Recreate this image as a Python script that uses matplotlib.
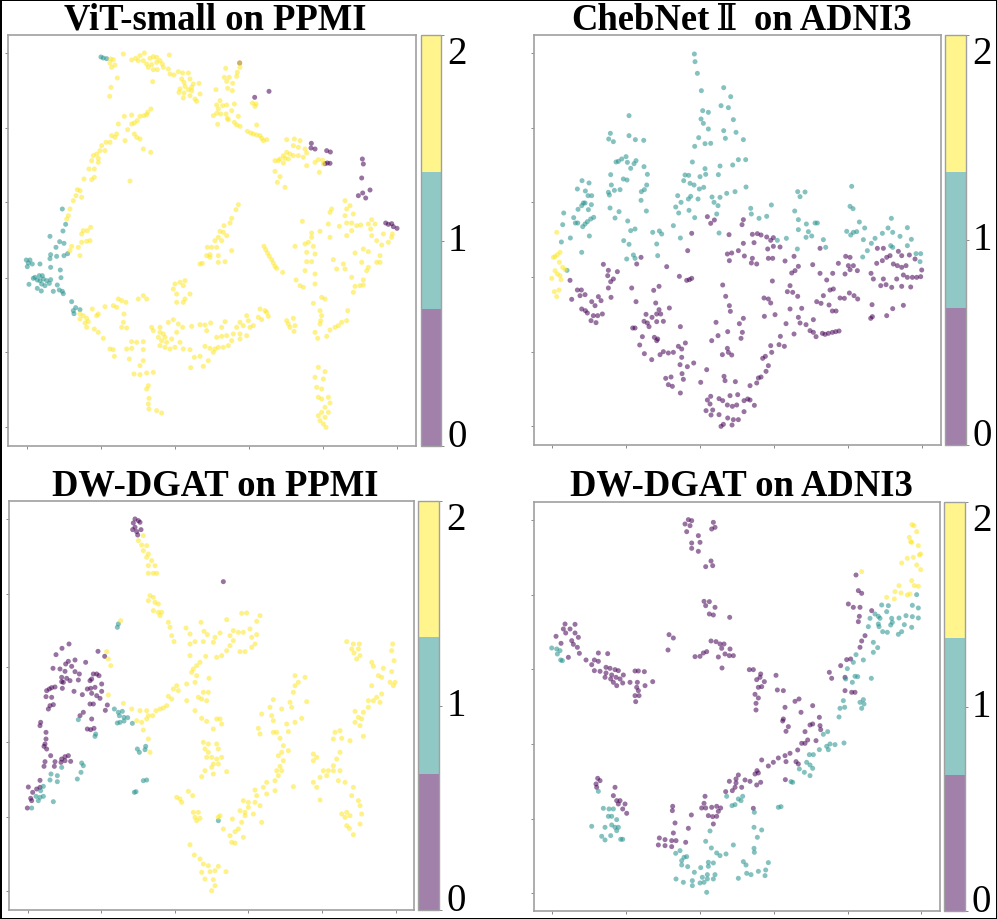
"""t-SNE embeddings of four models, three classes each."""
import numpy as np
import matplotlib
matplotlib.use("Agg")
import matplotlib.pyplot as plt
from matplotlib.cm import ScalarMappable
from matplotlib.colors import ListedColormap, Normalize

# embedding coordinates, one list per class
VIT_PPMI_0 = [(719,192),(807,277),(764,295),(934,433),(933,447),(945,450),(980,455),(991,459),(975,494),(982,492),(990,493),(1087,480),(1090,495),(1085,537),(1110,573),(1088,582),(1075,590),(1097,597),(1157,672),(1165,676),(1175,674),(1180,683),(1191,688)]
VIT_PPMI_1 = [(303,174),(310,177),(320,179),(187,630),(197,676),(189,696),(150,712),(179,728),(192,733),(168,745),(152,767),(150,779),(170,772),(192,770),(203,764),(79,783),(90,783),(97,795),(85,792),(82,803),(120,795),(152,805),(181,813),(183,836),(100,838),(87,856),(105,835),(118,830),(127,830),(112,843),(120,845),(130,840),(140,845),(152,842),(148,853),(125,855),(135,860),(112,868),(124,876),(160,877),(172,858),(178,873),(187,877),(190,884),(215,908),(227,926),(240,932),(220,935),(222,944)]
VIT_PPMI_2 = [(719,192),(332,180),(340,182),(330,192),(335,205),(345,198),(370,165),(352,237),(333,265),(329,292),(395,183),(407,178),(420,170),(433,162),(415,185),(430,185),(440,195),(450,178),(460,173),(470,175),(480,185),(487,195),(470,190),(455,197),(445,205),(460,212),(472,212),(508,168),(490,205),(505,210),(510,225),(522,228),(535,218),(548,222),(565,222),(545,240),(552,250),(570,240),(580,255),(575,265),(597,253),(555,262),(565,272),(540,270),(552,282),(537,280),(550,297),(575,275),(570,290),(585,300),(590,307),(600,285),(458,248),
    (677,208),(720,205),(712,220),(710,232),(673,235),(688,235),(680,247),(698,253),(683,268),(697,275),(648,272),(660,305),(668,320),(650,318),(655,330),(662,345),(680,318),(703,315),(695,335),(678,345),(640,350),(650,343),(715,352),(682,358),(685,362),(703,370),(653,376),(710,378),(720,382),(770,378),(742,397),(752,402),(760,405),(770,408),(780,410),(785,418),(790,425),(800,422),(757,312),(768,315),(765,322),
    (860,422),(883,420),(900,425),(880,440),(895,445),(915,450),(920,462),(860,460),(870,465),(850,470),(840,480),(855,478),(835,485),(825,485),(850,492),(865,480),(880,470),(895,470),(910,475),(920,500),(945,490),(955,482),(968,484),(970,495),(958,520),(825,517),(840,533),(832,550),(855,565),
    (453,330),(443,340),(432,350),(420,352),(440,347),(373,352),(395,348),(412,365),(403,372),(395,375),(355,375),(383,392),(375,425),(403,405),(410,415),(420,420),(350,405),(345,415),(335,410),(330,430),(318,430),(305,440),(300,455),(315,455),(290,465),(280,470),(295,478),(275,485),(295,490),(267,510),(283,510),(283,535),(275,542),(252,540),(430,450),(452,460),(390,546),(232,572),(240,575),(228,590),(245,595),(220,605),(210,630),(205,650),(200,660),(272,685),(262,695),(250,695),(245,705),(270,725),(260,727),(245,730),(235,745),(215,742),(210,755),(240,770),
    (715,617),(708,632),(695,658),(690,672),(672,680),(660,697),(670,700),(655,715),(680,710),(665,725),(645,725),(635,745),(622,745),(650,745),(620,770),(630,775),(655,770),(695,755),(630,767),(607,793),(600,795),(655,790),(675,788),(792,742),(797,752),(803,762),(808,772),(815,782),(820,792),(825,802),(830,808),(848,820),
    (1035,605),(1050,620),(995,630),(990,640),(1040,630),(1060,645),(1035,650),(907,667),(985,675),(1018,682),(1040,672),(1055,672),(1070,680),(1082,678),(1115,662),(1125,675),(1105,675),(1112,690),(1115,710),(960,697),(935,702),(1055,695),(1040,710),(1150,705),(1177,705),(1175,715),(1130,725),(1165,730),(1145,738),(990,715),(885,742),(935,715),(925,730),(915,735),(940,742),(920,760),(945,765),(1065,762),(1090,750),(1105,758),(1140,770),(1085,790),(920,788),(935,788),(1000,782),(1030,795),(1010,810),(1035,810),(1105,805),(1100,815),(1130,790),(1140,790),(915,815),(945,825),(1055,835),(1090,843),(888,843),(945,855),(900,860),(910,865),(1065,862),(1080,860),(1090,858),(1060,880),(965,895),(975,900),(940,913),(960,935),(1043,935),(965,950),(962,965),(960,975),(1040,965),(1025,970),(1015,980),(1005,985),(990,993),(980,1012),(945,1000),(953,1018),(860,965),(880,958),(865,975),(885,980),(870,985),(882,997),
    (240,945),(250,950),(260,958),(240,960),(265,968),(255,972),(260,985),(283,990),(295,1000),(310,1018),(330,1050),(340,1052),(343,1072),(277,930),(295,945),(315,923),(290,950),(340,920),(355,900),(365,905),(378,910),(350,925),(372,945),(370,970),(365,985),(380,987),(415,900),(430,890),(440,900),(525,855),(540,850),(555,845),(520,870),(530,885),(550,860),(570,885),(555,900),(530,910),(550,910),(395,1028),(410,1030),(430,1028),(380,1050),(395,1048),(430,1052),(388,1080),(430,1085),(420,1100),(402,1125),(420,1127),(440,1122),(460,1120),(445,1160),(440,1170),(447,1198),(445,1215),(447,1230),(470,1235),(485,1242),
    (455,985),(460,995),(480,985),(505,970),(520,962),(535,975),(548,985),(575,982),(600,977),(615,978),(632,972),(675,968),(665,985),(620,995),(480,1000),(490,1005),(475,1015),(495,1015),(485,1025),(500,1030),(515,1020),(530,1000),(540,1030),(495,1045),(510,1050),(525,1045),(550,1050),(570,1052),(480,1040),(650,1015),(665,1012),(680,1010),(700,1005),(720,1005),(740,1010),(695,1025),(720,1020),(615,1042),(630,1048),(645,1050),(655,1045),(670,1045),(685,1040),(640,1060),(600,1072),(583,1075),(625,1085),(572,1106),(610,1102),(720,970),(730,980),(740,950),(745,965),(750,985),(760,980),(710,985),(780,930),(795,935),(805,952),(785,962),(775,955),(800,940),
    (955,1105),(975,1118),(945,1135),(970,1140),(950,1165),(965,1170),(955,1195),(985,1195),(965,1200),(990,1212),(975,1225),(965,1240),(985,1240),(955,1250),(975,1255),(960,1265),(970,1275),(978,1285)]

CHEB_ADNI_0 = [(622,653),(643,663),(632,673),(730,662),(726,677),(575,703),(687,707),(757,706),(772,704),(783,708),(800,714),(820,716),(812,724),(762,731),(730,733),(803,750),(820,742),(840,744),(715,755),(695,762),(682,765),(563,755),(960,748),(882,772),(733,771),(757,778),(805,778),(818,778),(855,786),(688,785),(754,792),(770,795),(423,775),(410,795),(310,796),(500,803),(938,797),(1015,793),(1037,772),(1050,775),(1132,748),(1150,748),(1170,770),(1160,775),(1147,785),(1130,793),(1195,757),(1205,770),(1228,768),(1245,780),(895,802),(885,815),(875,822),(1045,800),(1060,800),(1050,812),(1035,825),(1072,815),(1180,795),(1192,800),(1205,805),(1218,800),(1265,813),(1113,823),(325,814),(352,818),(323,830),(538,832),(340,840),(332,848),(560,844),(575,838),(568,842),(960,823),(998,823),(1120,840),(1150,840),(1190,840),(1210,828),(1222,835),(1237,835),(1250,835),(1262,833),(210,844),(817,846),(980,843),(1142,860),(1158,857),(1175,865),(1205,862),(1232,864),(668,858),(870,860),(325,867),(395,867),(477,862),(461,874),(1000,870),(990,873),(232,873),(244,873),(862,878),(878,880),(677,892),(255,887),(240,890),(333,895),(295,893),(893,892),(1048,882),(1020,897),(1033,898),(1062,890),(1073,900),(970,890),(792,897),(805,900),(215,901),(303,905),(275,908),(408,908),(950,908),(963,913),(812,912),(467,912),(285,920),(1116,917),(688,920),(987,918),(1210,919),(870,930),(905,928),(245,930),(256,935),(262,942),(477,932),(508,927),(1178,929),(691,937),(997,936),(1008,936),(470,945),(482,945),(438,946),(825,947),(793,952),(456,955),(490,967),(470,968),(1160,950),(1117,953),(1112,958),(895,955),(730,958),(280,950),(293,950),(307,945),(273,965),(288,971),(432,967),(442,972),(648,970),(718,974),(858,974),(900,972),(918,977),(940,962),(541,983),(447,983),(398,987),(405,987),(1017,996),(1007,998),(997,1000),(985,1003),(975,1006),(967,1003),(930,995),(940,1000),(882,1005),(948,1013),(683,998),(727,1000),(654,1010),(841,1012),(723,1018),(635,1025),(427,1013),(463,1015),(473,1020),(470,1025),(556,1032),(419,1038),(535,1042),(545,1050),(812,1040),(837,1037),(853,1042),(682,1048),(433,1064),(520,1060),(505,1062),(490,1058),(480,1067),(685,1060),(667,1067),(695,1068),(815,1060),(796,1072),(788,1078),(545,1075),(455,1082),(581,1092),(540,1097),(562,1103),(805,1100),(620,1112),(798,1117),(546,1124),(550,1141),(497,1138),(513,1134),(672,1132),(675,1145),(783,1134),(775,1137),(706,1148),(770,1152),(750,1160),(602,1150),(505,1157),(517,1162),(541,1182),(632,1192),(622,1203),(657,1199),(668,1205),(690,1190),(713,1187),(732,1205),(743,1200),(750,1203),(630,1215),(682,1218),(697,1222),(710,1218),(763,1219),(618,1235),(638,1233),(732,1238),(633,1248),(657,1247),(683,1257),(700,1262),(715,1262),(670,1276),(663,1282),(696,1278)]
CHEB_ADNI_1 = [(583,165),(585,188),(592,223),(604,275),(671,266),(692,293),(663,320),(685,326),(608,335),(625,340),(387,350),(603,360),(610,373),(700,362),(625,390),(671,395),(708,400),(331,403),(387,410),(326,420),(340,428),(406,422),(431,424),(596,416),(676,418),(730,422),(615,434),(632,433),(584,442),(378,473),(365,480),(355,487),(348,489),(382,490),(408,485),(402,494),(715,482),(737,482),(577,489),(660,501),(698,498),(392,508),(432,503),(615,509),(332,527),(442,526),(555,528),(566,529),(617,526),(600,533),(655,527),(370,540),(381,543),(551,545),(570,553),(582,558),(598,570),(611,565),(246,545),(267,552),(334,558),(440,558),(433,572),(424,578),(232,570),(256,576),(360,572),(343,574),(325,580),(328,588),(264,590),(275,590),(738,564),(680,583),(705,578),(533,590),(572,592),(565,600),(636,594),(660,595),(594,600),(543,610),(423,604),(642,610),(527,624),(250,612),(255,612),(274,617),(245,620),(234,631),(265,632),(330,627),(357,638),(439,636),(567,634),(536,642),(654,620),(650,645),(584,656),(191,642),(221,656),(345,657),(814,618),(752,628),(754,645),(800,652),(777,658),(893,578),(915,579),(900,593),(884,636),(1055,562),(1050,622),(1059,629),(895,662),(281,655),(272,660),(262,668),(255,675),(248,683),(226,672),(233,672),(188,677),(383,666),(919,675),(945,672),(952,672),(1078,669),(1174,658),(405,690),(392,695),(520,680),(458,700),(478,696),(485,705),(657,702),(268,711),(211,717),(541,717),(371,725),(184,729),(387,736),(470,735),(245,760),(473,770),(400,768),(380,780),(405,778),(895,692),(925,698),(918,715),(935,711),(1040,697),(1060,700),(1052,708),(1070,698),(1094,687),(1164,687),(1147,703),(1178,700),(1222,686),(1200,712),(1234,721),(832,724),(859,718),(970,722),(977,745),(892,750),(1090,722),(1125,718),(1114,733),(1102,755),(1088,774),(1172,740),(1178,745),(1222,740),(1248,764),(1262,764),(1260,788),(201,814)]
CHEB_ADNI_2 = [(170,700),(180,760),(172,767),(165,773),(160,775),(178,790),(188,805),(195,812),(165,815),(172,825),(180,830),(183,842),(155,838),(163,878),(177,873),(170,893)]

DW_PPMI_0 = [(405,180),(415,185),(400,192),(420,190),(405,205),(398,212),(423,212),(410,218),(413,228),(670,368),(207,555),(186,568),(168,587),(294,577),(314,592),(225,603),(205,607),(197,615),(215,622),(257,610),(159,628),(180,630),(195,637),(225,638),(238,645),(280,645),(290,645),(297,650),(185,655),(200,658),(210,665),(185,668),(235,663),(270,665),(275,660),(305,675),(190,670),(165,684),(155,686),(148,690),(140,695),(187,688),(222,697),(262,690),(272,688),(285,685),(138,713),(155,715),(247,707),(275,703),(290,710),(300,718),(305,697),(160,737),(150,740),(145,750),(270,735),(280,735),(322,738),(316,754),(250,760),(240,770),(275,780),(122,790),(120,800),(262,810),(272,812),(282,808),(138,820),(138,840),(135,855),(132,862),(140,870),(152,890),(205,890),(195,893),(185,900),(135,908),(165,908),(183,910),(195,905),(132,922),(163,922),(212,907),(120,964),(85,984),(110,990),(98,1000),(120,985),(92,1018),(95,1025),(82,1047)]
DW_PPMI_1 = [(355,495),(352,505),(343,750),(355,760),(367,757),(358,770),(372,775),(383,776),(360,790),(352,792),(372,786),(397,793),(235,782),(287,825),(285,832),(412,870),(418,880),(437,862),(435,872),(245,912),(250,920),(243,940),(153,945),(172,950),(150,963),(172,968),(232,960),(185,925),(430,965),(440,963),(403,1000),(408,998),(130,982),(122,995),(108,1012),(120,1015),(130,1012),(115,1025),(160,1028),(95,1047),(655,1085)]
DW_PPMI_2 = [(362,485),(320,578),(325,600),(332,620),(325,708),(370,733),(395,750),(430,813),(445,840),(450,880),(430,230),(415,245),(425,258),(440,260),(430,275),(445,285),(440,295),(455,305),(445,320),(465,320),(445,343),(460,343),(470,343),(450,410),(460,415),(445,425),(465,430),(475,435),(460,455),(475,460),(485,460),(480,470),(505,490),(510,505),(515,530),(522,548),
    (603,490),(558,507),(570,525),(612,517),(622,527),(680,482),(725,463),(740,462),(780,470),(770,487),(660,522),(645,535),(640,550),(700,515),(715,520),(730,520),(750,510),(690,530),(700,545),(770,527),(755,535),(610,548),(585,548),(570,555),(570,590),(765,555),(755,565),(690,560),(680,575),(720,578),(735,578),(650,595),(665,590),(617,592),(600,610),(590,620),(580,630),(575,640),(590,650),(560,675),(585,670),(627,658),(530,680),(520,690),(535,695),(505,712),(515,720),(500,740),(490,747),(480,750),(610,700),(620,725),(595,715),(605,720),(625,700),(560,725),(585,755),(468,755),(458,770),(445,770),(440,780),(425,790),(410,785),(420,755),(440,755),
    (605,778),(620,787),(650,780),(660,780),(640,810),(665,795),(610,850),(625,855),(650,855),(615,870),(625,880),(655,870),(635,895),(620,895),(650,900),(665,895),(640,915),(655,915),(635,925),(615,935),(640,945),(605,953),(680,938),
    (885,650),(915,655),(895,670),(885,680),(880,700),(870,730),(875,745),(920,728),(820,722),(810,745),(785,765),(815,770),(845,750),(905,778),(885,790),(860,795),(820,785),(775,808),(780,825),(820,820),(830,820),(865,818),(840,838),(850,860),(865,875),(845,880),(835,890),(850,905),(840,922),(830,935),(845,935),(835,950),(825,965),(800,970),(825,995),(880,983),(790,985),(765,993),(770,1010),(800,1005),
    (1040,548),(1060,555),(1078,555),(1055,570),(1075,570),(1062,582),(1080,590),(1070,600),(1178,555),(1175,575),(1182,605),(1115,610),(1120,622),(1150,628),(1175,638),(1135,650),(1145,655),(1115,680),(1170,670),(1185,670),(1180,680),(1145,705),(1130,715),(1105,725),(1120,725),(1140,730),(1105,745),(1065,757),(1090,760),(1075,775),(1085,780),(1065,790),(1080,800),(1090,832),
    (1020,815),(1005,820),(1000,840),(1025,838),(1050,845),(1020,880),(1010,900),(1000,920),(1020,935),(1000,935),(985,935),(970,935),(980,950),(960,955),(940,970),(950,985),(1015,965),(1035,970),(1060,985),(940,885),(950,895),(940,905),(960,1023),(1055,1010),(1075,1025),(1080,1040),(1085,1065),(1025,1065),(1040,1060),(1050,1070),(1035,1075),(1080,1095),(1040,1100),(1048,1108),(1060,1127),
    (530,1015),(540,1020),(545,1030),(565,997),(578,1010),(580,1060),(595,1060),(585,1075),(600,1078),(590,1085),(660,1070),(655,1075),(697,1080),(670,1110),(730,1025),(745,1030),(765,1030),(780,1040),(745,1045),(735,1060),(720,1055),(760,1065),(735,1070),(785,1090),(725,1090),(715,1110),(705,1118),(730,1135),(690,1130),(695,1150),(705,1152),
    (570,1157),(583,1188),(600,1200),(610,1215),(625,1220),(655,1222),(605,1240),(630,1238),(645,1235),(678,1238),(615,1260),(640,1262),(645,1280),(635,1295)]

DW_ADNI_0 = [(565,182),(575,185),(555,195),(570,200),(560,218),(640,190),(645,205),(635,210),(595,230),(575,252),(600,250),(575,268),(595,277),(633,306),(617,323),(638,320),(612,427),(628,428),(617,440),(645,445),(628,465),(640,468),(689,475),(1068,348),(1075,395),(1085,403),(1045,435),(1060,445),(1080,445),(1115,455),(1078,472),(1075,488),
    (195,495),(225,496),(190,510),(210,510),(197,522),(225,522),(168,532),(235,535),(215,545),(183,553),(220,556),(232,565),(238,583),(205,595),(507,527),(520,537),(504,573),(633,546),(648,548),(660,555),(672,555),(665,568),(690,570),(675,585),(688,590),(700,590),(620,578),(610,582),(600,592),(585,593),(655,594),(666,627),(295,582),(323,584),(258,603),(283,603),(295,607),(275,617),(283,635),(300,637),(318,625),(330,628),(345,632),(355,635),(318,642),(335,648),(348,655),(370,648),(315,655),(332,660),(360,660),(340,670),(350,680),(405,636),(415,636),(433,638),(368,672),(390,670),(412,670),(410,685),(435,680),(458,668),(415,695),(405,710),(417,710),(407,728),
    (748,632),(760,632),(782,645),(780,655),(770,662),(793,668),(775,685),(785,683),(765,706),(775,717),(768,733),(768,753),(828,649),(832,693),(850,695),(885,727),(897,720),(855,745),(938,740),(903,760),(850,780),(848,786),(958,775),(865,803),(938,795),(930,798),(960,800),(858,817),(962,812),(915,818),(923,843),(948,845),(905,853),(915,853),(870,883),(855,890),(893,873),(835,897),(858,908),(785,903),(820,910),(805,921),(888,908),(895,915),(771,935),(775,942),(765,945),(715,948),(708,960),(688,967),(735,963),(750,967),(770,978),(782,970),(708,972),(856,962),(988,640),(995,658),(1022,620),(1040,602),(1052,600),(1035,655),(1035,695),(1055,700),(1065,700),(1095,530),(1085,546),(1080,565),
    (293,958),(300,965),(288,975),(290,985),(345,985),(340,1010),(350,1025),(360,1025),(375,1035),(355,1035),(368,1050),(380,1063),(725,985),(705,985),(677,998),(697,995),(615,1012),(612,1033),(605,1047),(617,1047),(635,1045),(650,1042),(662,1047),(655,1057),(625,1070),(638,1073),(650,1072),(640,1095),(518,1042),(517,1055),(574,1068),(760,1048),(525,1092),(565,1108),(520,1122),(478,1137),(495,1142),(515,1145),(528,1145),(557,1150),(475,1158),(495,1160),(515,1163)]
DW_ADNI_1 = [(1250,407),(1145,438),(1165,440),(1237,439),(1255,447),(1160,458),(1125,465),(1135,472),(1110,478),(1140,478),(1175,478),(1197,477),(1218,470),(1237,473),(1255,477),(1177,490),(1135,495),(1137,503),(1105,503),(1172,498),(1213,497),(1235,505),(1205,518),(1195,526),(1148,518),(1162,520),(1120,550),(1133,566),(1120,580),(1068,587),(1090,603),(1060,610),(1042,629),(1065,652),(1037,660),(1057,670),(1114,658),(1073,653),(1030,725),(1090,722),(1080,730),(1092,735),(1020,748),(1034,745),(1085,748),(1017,774),(983,818),(970,826),(1032,852),(1005,857),(990,855),(980,862),(958,872),(985,872),(928,887),(940,887),(920,910),(930,918),(938,928),(898,930),(913,940),(930,950),(873,968),(878,970),(155,567),(170,570),(180,575),(172,585),(182,603),(187,605),(715,1020),(728,1012),(680,1012),(696,1040),(705,1037),(723,1025),(295,997),(310,1048),(327,1050),(340,1050),(325,1072),(335,1072),(350,1082),(275,1102),(315,1105),(335,1098),(345,1105),(355,1105),(350,1115),(305,1132),(332,1130),(315,1143),(362,1141),(368,1141),(835,1045),(843,1043),(763,1060),(762,1105),(785,1113),(772,1135),(630,1116),(617,1147),(700,1158),(634,1167),(650,1182),(660,1190),(678,1185),(762,1168),(763,1180),(527,1183),(540,1175),(552,1195),(560,1193),(545,1205),(545,1218),(563,1223),(625,1210),(640,1212),(625,1222),(602,1226),(730,1208),(738,1218),(805,1211),(797,1233),(775,1237),(740,1243),(753,1247),(795,1250),(715,1258),(583,1240),(622,1247),(645,1247),(607,1255),(622,1260),(640,1260),(528,1260),(550,1270),(577,1265),(577,1280),(600,1272),(612,1270),(620,1300)]
DW_ADNI_2 = [(1236,197),(1242,200),(1250,218),(1228,235),(1232,248),(1235,250),(1255,260),(1262,285),(1258,288),(1240,295),(1222,298),(1205,312),(1250,318),(1262,332),(1085,338),(1235,365),(1243,380),(1255,382),(1197,380),(1185,398),(1203,402),(1160,415),(1183,420),(1222,408),(1230,405)]

TITLES = ["ViT-small on PPMI", None, "DW-DGAT on PPMI", "DW-DGAT on ADNI3"]
CLASSES = [
    (VIT_PPMI_0, VIT_PPMI_1, VIT_PPMI_2),
    (CHEB_ADNI_0, CHEB_ADNI_1, CHEB_ADNI_2),
    (DW_PPMI_0, DW_PPMI_1, DW_PPMI_2),
    (DW_ADNI_0, DW_ADNI_1, DW_ADNI_2),
]
XTICKS = [
    [82, 303, 525, 747, 969, 1191],
    [157, 379, 601, 823, 1045, 1267],
    [83, 303, 525, 745, 967, 1187],
    [157, 378, 600, 821, 1043, 1264],
]
YTICKS = [
    [163, 388, 610, 837, 1060, 1285],
    [163, 388, 609, 835, 1058, 1282],
    [180, 404, 625, 850, 1074, 1297],
    [183, 408, 631, 856, 1079, 1302],
]
XLIMS = [(25, 1247), (101, 1322), (27, 1241), (101, 1320)]
YLIMS = [(1341, 108), (1338, 108), (1352, 127), (1357, 129)]

W, H = 997, 920
# left, right, top, bottom of each panel and its colour bar, in pixels
AX_BOX = [(8.3, 415.7, 36, 447), (533.7, 940.7, 36, 446), (9, 413.7, 502.3, 910.7), (533.7, 940, 503, 912.3)]
CB_BOX = [(420.7, 440.7, 36, 447), (945.3, 965.7, 36, 446), (418.3, 439.3, 502.3, 910.7), (944, 965, 503, 912.3)]
TITLE_Y = [29.5, 30, 496, 496]
TITLE_X = [215, 741.5, 215, 741.5]
TITLE_SIZE = 26.4

GREY = "#a0a0a0"
cmap3 = ListedColormap(["#440154", "#21918c", "#fde725"])
cmap3_pale = ListedColormap(["#a180aa", "#90c8c5", "#fff58c"])
norm3 = Normalize(0, 2)


def add_axes(box):
    left, right, top, bottom = box
    return fig.add_axes([left / W, 1 - bottom / H, (right - left) / W, (bottom - top) / H])


def add_title(x, y, text, ha="center", weight="bold"):
    fig.text(x / W, 1 - y / H, text, ha=ha, va="baseline", weight=weight, fontsize=TITLE_SIZE,
             family=["Liberation Serif", "DejaVu Serif"])


fig = plt.figure(figsize=(W / 100, H / 100), dpi=100, linewidth=2, edgecolor="black")

for i in range(4):
    ax = add_axes(AX_BOX[i])
    xs, ys, cs = [], [], []
    for label, pts in enumerate(CLASSES[i]):
        arr = np.array(pts)
        xs.append(arr[:, 0]); ys.append(arr[:, 1])
        cs.append(np.full(len(arr), label))
    ax.scatter(np.concatenate(xs), np.concatenate(ys), c=np.concatenate(cs), cmap=cmap3, norm=norm3,
               s=13, alpha=0.55, linewidths=0)
    ax.set_xlim(*XLIMS[i]); ax.set_ylim(*YLIMS[i])
    ax.set_xticks(XTICKS[i]); ax.set_yticks(YTICKS[i])
    ax.tick_params(length=2, width=0.6, color="#777777", labelbottom=False, labelleft=False)
    for s in ax.spines.values():
        s.set_color(GREY); s.set_linewidth(1.2)

    cax = add_axes(CB_BOX[i])
    cb = fig.colorbar(ScalarMappable(norm=norm3, cmap=cmap3_pale), cax=cax, ticks=[0, 1, 2])
    cb.ax.set_yticklabels(["0", "1", "2"], family="Liberation Serif", fontsize=28)
    cb.ax.tick_params(length=2, width=0.6, color="#777777", pad=3)
    cb.outline.set_edgecolor(GREY); cb.outline.set_linewidth(1.0)
    for lab, va in zip(cb.ax.get_yticklabels(), ["baseline", "center", "top"]):
        lab.set_verticalalignment(va)

    if TITLES[i] is not None:
        add_title(TITLE_X[i], TITLE_Y[i], TITLES[i])

# the roman numeral in the second title is set lighter than the words round it
add_title(710, TITLE_Y[1], "ChebNet", ha="right")
add_title(727, TITLE_Y[1], "\u2161", weight="normal")
add_title(754, TITLE_Y[1], "on ADNI3", ha="left")

fig.savefig("out.png", dpi=100)
